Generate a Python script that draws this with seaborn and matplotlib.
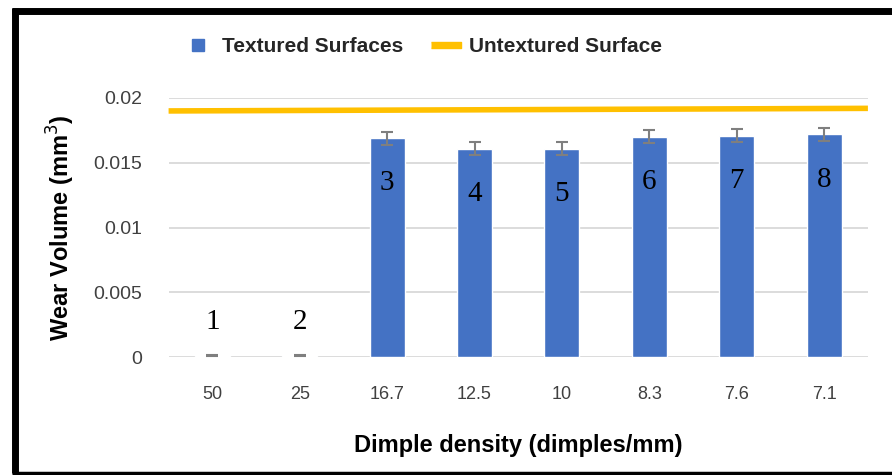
import matplotlib

matplotlib.use("Agg")
import matplotlib.pyplot as plt
import numpy as np
import pandas as pd
import seaborn as sns
from matplotlib.lines import Line2D

# data
densities = ["50", "25", "16.7", "12.5", "10", "8.3", "7.6", "7.1"]
sample_ids = ["1", "2", "3", "4", "5", "6", "7", "8"]
wear_volume = [0.0001, 0.0001, 0.0169, 0.0161, 0.0161, 0.0170, 0.0171, 0.0172]
wear_error = [0.00002, 0.00002, 0.0005, 0.0005, 0.0005, 0.0005, 0.0005, 0.0005]
untextured_ends = [0.0190, 0.0192]

BLUE = "#4472C4"
YELLOW = "#FFC000"
GRID = "#d9d9d9"
TEXT = "#404040"


def main():
    sns.set_style("white")
    plt.rcParams["font.family"] = ["Liberation Sans", "DejaVu Sans"]

    df = pd.DataFrame({"density": densities, "wear": wear_volume})

    fig = plt.figure(figsize=(8.92, 4.75), dpi=100)
    ax = fig.add_axes([0.189, 0.2484, 0.784, 0.5453])

    sns.barplot(data=df, x="density", y="wear", order=densities, color=BLUE,
                width=0.4, errorbar=None, saturation=1, ax=ax, zorder=3)
    xs = np.arange(len(densities))
    ax.errorbar(xs, wear_volume, yerr=wear_error, fmt="none", ecolor="#7f7f7f",
                elinewidth=1.5, capsize=4, capthick=1.5, zorder=4)

    ax.set_xlim(-0.5, len(densities) - 0.5)
    ax.plot([-0.5, len(densities) - 0.5], untextured_ends, color=YELLOW,
            lw=4, solid_capstyle="butt", zorder=5, clip_on=False)

    for x, v, lab in zip(xs, wear_volume, sample_ids):
        y = v - 0.0035 if v > 0.005 else v + 0.0026
        ax.text(x, y, lab, ha="center", va="center", fontsize=21,
                family="Liberation Serif", color="black", zorder=6)

    ax.set_ylim(0, 0.02)
    ax.set_yticks([0, 0.005, 0.01, 0.015, 0.02])
    ax.set_yticklabels(["0", "0.005", "0.01", "0.015", "0.02"])
    ax.yaxis.grid(True, color=GRID, lw=1.3, zorder=0)
    ax.set_axisbelow(True)
    for s in ax.spines.values():
        s.set_visible(False)
    ax.tick_params(axis="both", length=0, labelcolor=TEXT)
    ax.tick_params(axis="y", pad=19, labelsize=14)
    ax.tick_params(axis="x", pad=21, labelsize=13)

    ax.set_xlabel("Dimple density (dimples/mm)", fontsize=17, fontweight="bold",
                  color="black", labelpad=22)
    ax.set_ylabel("Wear Volume (mm$^3$)", fontsize=17, fontweight="bold",
                  color="black", labelpad=12)

    handles = [
        Line2D([], [], ls="none", marker="s", markersize=9, color=BLUE,
               label="Textured Surfaces"),
        Line2D([], [], ls="none",
               marker=[(-2.2, -0.5), (2.2, -0.5), (2.2, 0.5), (-2.2, 0.5)],
               markersize=22, color=YELLOW, label="Untextured Surface"),
    ]
    fig.legend(handles=handles, loc="center left", bbox_to_anchor=(0.183, 0.902),
               ncol=2, frameon=False, handlelength=1.5, columnspacing=1.3,
               handletextpad=0.4, prop={"weight": "bold", "size": 15})

    # black frame around the figure (left, top, bottom)
    fig.add_artist(Line2D([15 / 892, 15 / 892], [2 / 475, 467 / 475], color="black",
                          lw=5, solid_capstyle="butt"))
    fig.add_artist(Line2D([12 / 892, 1.0], [464 / 475, 464 / 475], color="black",
                          lw=5, solid_capstyle="butt"))
    fig.add_artist(Line2D([12 / 892, 1.0], [2 / 475, 2 / 475], color="black",
                          lw=2.5, solid_capstyle="butt"))

    fig.savefig("out.png", dpi=100)
    plt.close(fig)


if __name__ == "__main__":
    main()
